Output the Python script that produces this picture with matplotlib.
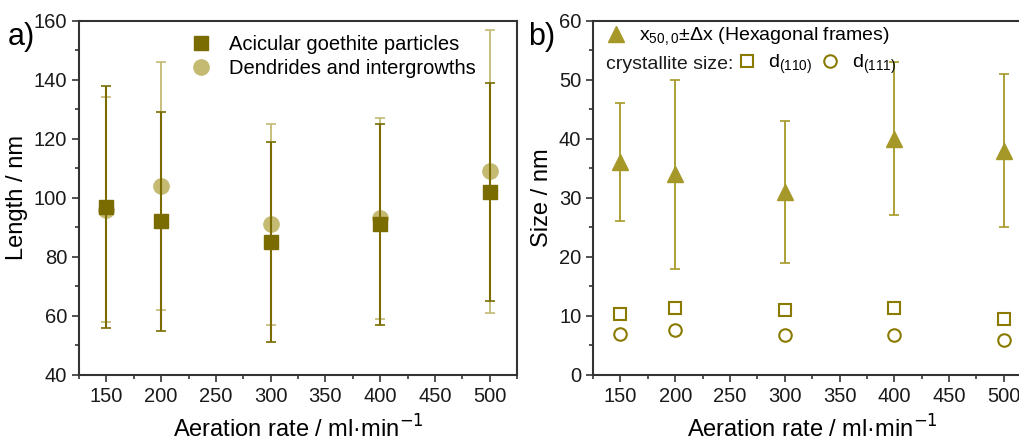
import matplotlib
matplotlib.use("Agg")
import matplotlib.pyplot as plt
from matplotlib.lines import Line2D
from matplotlib.ticker import MultipleLocator

plt.rcParams["font.family"] = ["Liberation Sans", "DejaVu Sans"]

# ---------------------------------------------------------------- data
rate = [150, 200, 300, 400, 500]

# panel a: length / nm
acicular = [97, 92, 85, 91, 102]
acicular_err = [41, 37, 34, 34, 37]
dendrides = [96, 104, 91, 93, 109]
dendrides_err = [38, 42, 34, 34, 48]

# panel b: size / nm
hexa = [36, 34, 31, 40, 38]
hexa_err = [10, 16, 12, 13, 13]
d110 = [10.3, 11.4, 11.0, 11.4, 9.4]
d111 = [6.9, 7.6, 6.7, 6.7, 5.9]

DARK = "#7a6c00"
LIGHT = "#c4ba72"
MID = "#a69828"
OPEN = "#8a7b00"
AX = "#333333"

# ---------------------------------------------------------------- figure
fig = plt.figure(figsize=(10.19, 4.41), dpi=100)
axa = fig.add_axes([0.0775, 0.150, 0.430, 0.803])
axb = fig.add_axes([0.582, 0.150, 0.430, 0.803])


def style(ax, ylo, yhi, ymaj, ymin):
    ax.set_xlim(125, 525)
    ax.set_ylim(ylo, yhi)
    ax.set_xticks(range(150, 501, 50))
    ax.xaxis.set_minor_locator(MultipleLocator(25))
    ax.yaxis.set_major_locator(MultipleLocator(ymaj))
    ax.yaxis.set_minor_locator(MultipleLocator(ymin))
    ax.tick_params(which="both", direction="out", colors=AX, labelcolor="#1a1a1a",
                   labelsize=14.5, width=1.2)
    ax.tick_params(which="major", length=5)
    ax.tick_params(which="minor", length=3)
    for s in ax.spines.values():
        s.set_linewidth(1.5)
        s.set_color(AX)
    ax.set_xlabel("Aeration rate / ml·min$^{-1}$", fontsize=17, labelpad=7)


# ---------------------------------------------------------------- panel a
axa.errorbar(rate, dendrides, yerr=dendrides_err, fmt="o", color=LIGHT, ms=11,
             ecolor=LIGHT, elinewidth=1.3, capsize=3.5, capthick=1.2, zorder=2)
axa.errorbar(rate, acicular, yerr=acicular_err, fmt="s", color=DARK, ms=10,
             ecolor=DARK, elinewidth=1.5, capsize=3.5, capthick=1.2, zorder=3)
style(axa, 40, 160, 20, 10)
axa.set_ylabel("Length / nm", fontsize=17, labelpad=4)

handles_a = [
    Line2D([], [], ls="none", marker="s", ms=10, color=DARK),
    Line2D([], [], ls="none", marker="o", ms=11, color=LIGHT),
]
axa.legend(handles_a, ["Acicular goethite particles", "Dendrides and intergrowths"],
           loc="upper left", bbox_to_anchor=(0.21, 1.01), frameon=False,
           fontsize=14.5, handletextpad=0.8, labelspacing=0.25, handlelength=1.2)

# ---------------------------------------------------------------- panel b
axb.errorbar(rate, hexa, yerr=hexa_err, fmt="^", color=MID, ms=11,
             ecolor=MID, elinewidth=1.3, capsize=3.5, capthick=1.2, zorder=3)
axb.plot(rate, d110, ls="none", marker="s", ms=8, mfc="none", mec=OPEN, mew=1.5)
axb.plot(rate, d111, ls="none", marker="o", ms=9, mfc="none", mec=OPEN, mew=1.5)
style(axb, 0, 60, 10, 5)
axb.set_ylabel("Size / nm", fontsize=17, labelpad=4)

leg1 = axb.legend([Line2D([], [], ls="none", marker="^", ms=11, color=MID)],
                  ["x$_{\\mathregular{50,0}}$±Δx (Hexagonal frames)"],
                  loc="upper left", bbox_to_anchor=(-0.015, 1.035), frameon=False,
                  fontsize=14, handletextpad=0.6, handlelength=1.2)
axb.add_artist(leg1)
handles_b = [
    Line2D([], [], ls="none", marker="s", ms=8, mfc="none", mec=OPEN, mew=1.5),
    Line2D([], [], ls="none", marker="o", ms=9, mfc="none", mec=OPEN, mew=1.5),
]
axb.legend(handles_b, ["d$_{\\mathregular{(110)}}$", "d$_{\\mathregular{(111)}}$"],
           loc="upper left", bbox_to_anchor=(0.285, 0.96), frameon=False, ncol=2,
           fontsize=14, handletextpad=0.5, handlelength=1.2, columnspacing=0.3)
axb.text(0.03, 0.875, "crystallite size:", transform=axb.transAxes, fontsize=14,
         va="center", ha="left", color="#1a1a1a")

# ---------------------------------------------------------------- panel labels
fig.text(0.008, 0.915, "a)", fontsize=22, va="center")
fig.text(0.518, 0.915, "b)", fontsize=22, va="center")

fig.savefig("out.png", dpi=100)
